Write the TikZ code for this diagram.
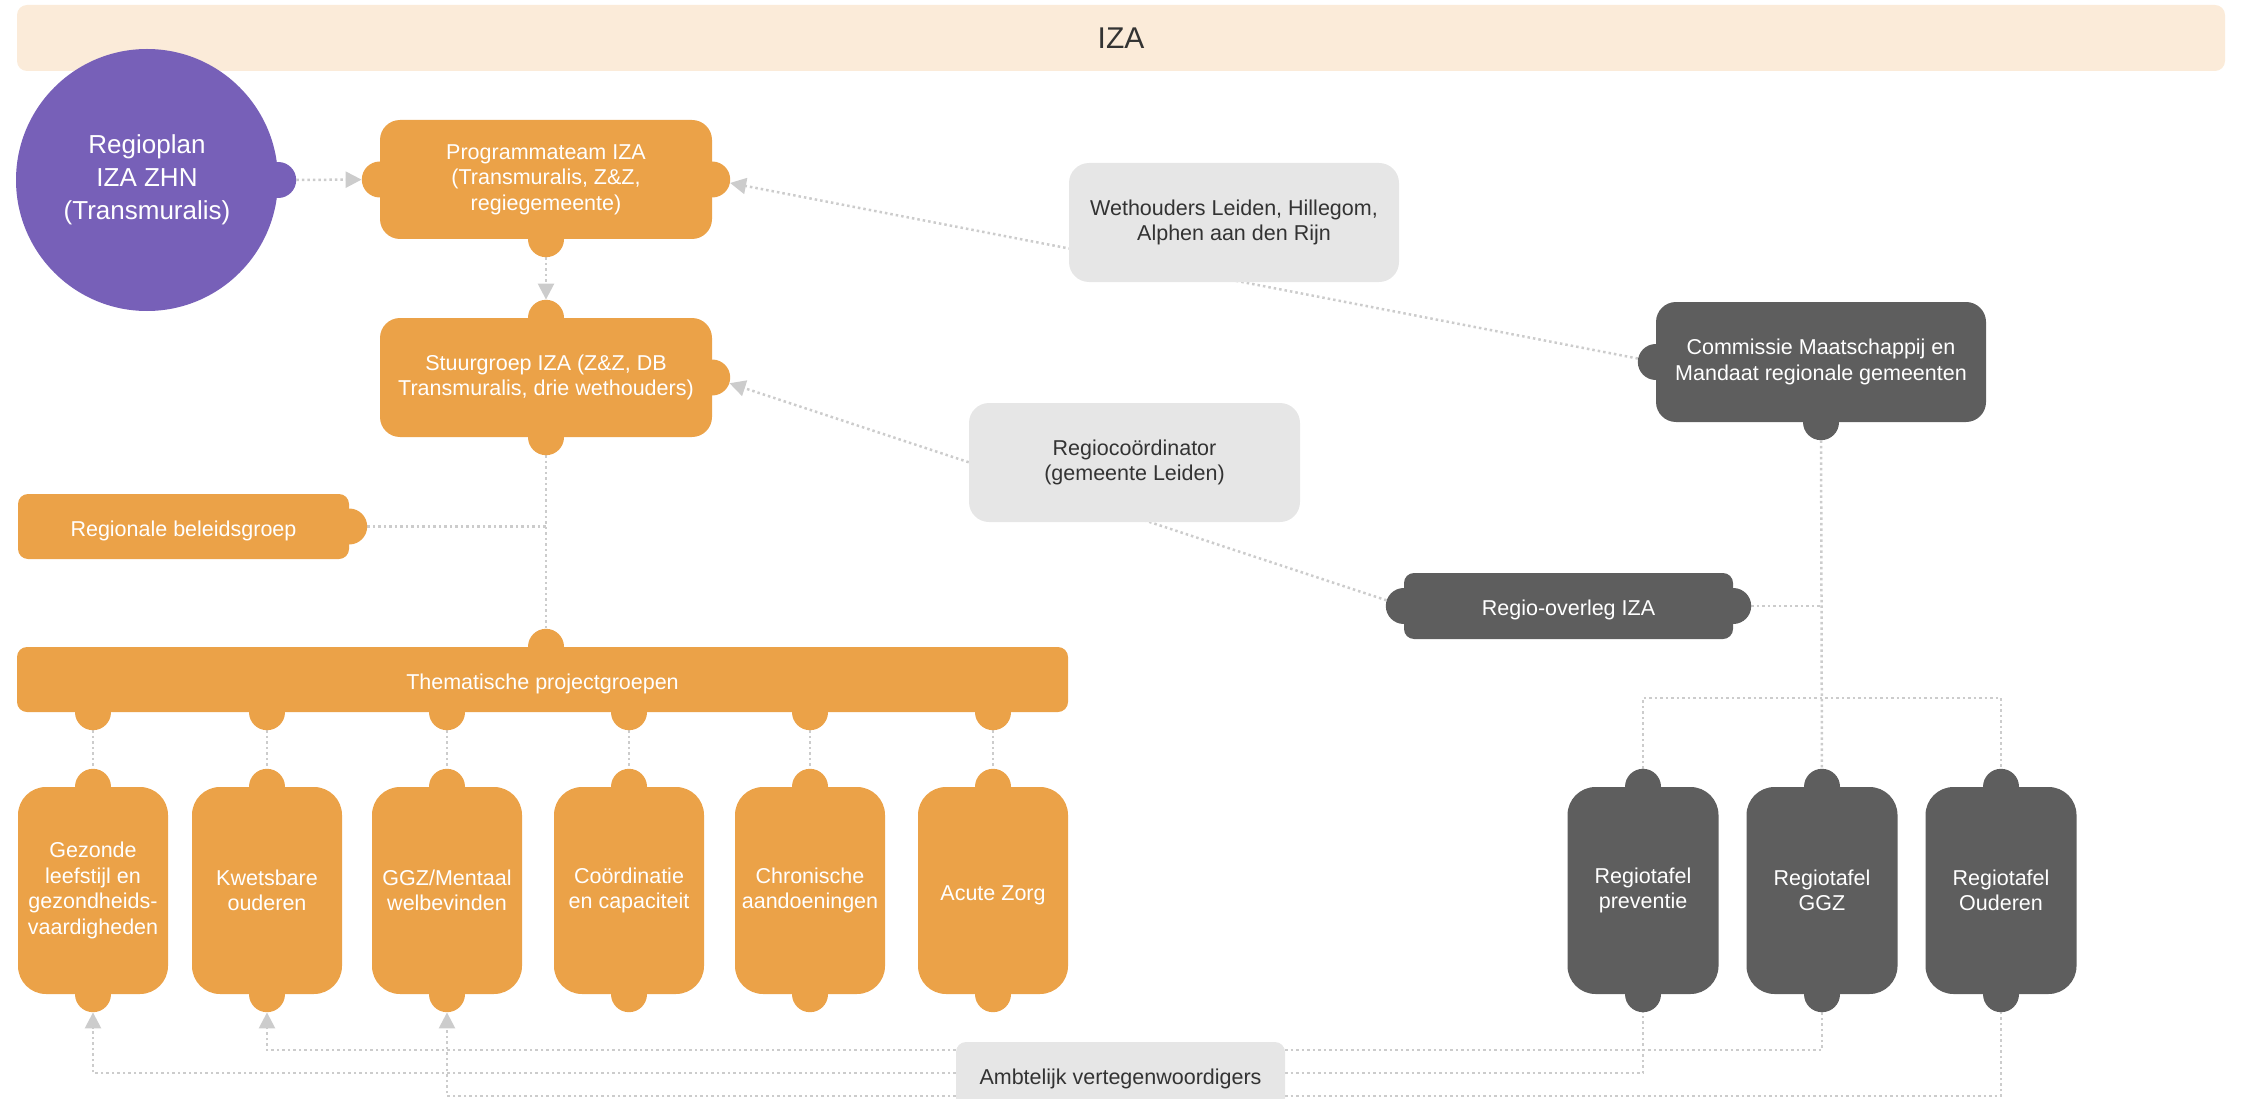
\documentclass[tikz,border=0pt]{standalone}
\usepackage{fontspec}
\setmainfont{Liberation Sans}
\usetikzlibrary{arrows.meta,calc}
\definecolor{orng}{RGB}{235,162,72}
\definecolor{purp}{RGB}{119,96,184}
\definecolor{dgrey}{RGB}{94,94,94}
\definecolor{lgrey}{RGB}{230,230,230}
\definecolor{bannerc}{RGB}{251,235,217}
\definecolor{linec}{RGB}{204,204,204}
\definecolor{txt}{RGB}{51,51,51}
\pgfdeclarelayer{bg}
\pgfsetlayers{bg,main}
\begin{document}
\begin{tikzpicture}[x=1pt,y=-1pt,
  every node/.style={font=\fontsize{21.5}{25.5}\selectfont, align=center, inner sep=0pt},
  lower/.style={execute at begin node={\rule{0pt}{23.5pt}}},
  obox/.style={fill=orng, text=white, rounded corners=20pt, lower},
  dbox/.style={fill=dgrey, text=white, rounded corners=20pt, lower},
  lbox/.style={fill=lgrey, text=txt, rounded corners=20pt, lower},
  obump/.style={circle, minimum size=36pt, inner sep=0pt, fill=orng},
  dbump/.style={circle, minimum size=36pt, inner sep=0pt, fill=dgrey},
  pbump/.style={circle, minimum size=36pt, inner sep=0pt, fill=purp},
  conn/.style={draw=linec, line width=2.5pt, dash pattern=on 2.5pt off 3pt},
  arr/.style={conn, -{Triangle[length=16pt,width=16pt]}}
]
\useasboundingbox (0,0) rectangle (2242,1099);

% banner
\node[fill=bannerc, rounded corners=10pt, minimum width=2208pt, minimum height=66pt,
      font=\fontsize{30}{36}\selectfont, text=txt] (iza) at (1121,38) {IZA};

% regioplan circle
\node[circle, fill=purp, minimum size=262pt, text=white,
      font=\fontsize{26}{33}\selectfont,
      execute at begin node={\rule{0pt}{27pt}}] (plan) at (147,180) {Regioplan\\IZA ZHN\\(Transmuralis)};
\node[pbump] (planR) at (plan.east) {};

% programmateam
\node[obox, minimum width=332pt, minimum height=119pt] (prog) at (546,179.5)
  {Programmateam IZA\\(Transmuralis, Z\&Z,\\regiegemeente)};
\node[obump] (progL) at (prog.west) {};
\node[obump] (progR) at (prog.east) {};
\node[obump] (progB) at (prog.south) {};

% stuurgroep
\node[obox, minimum width=332pt, minimum height=119pt] (stuur) at (546,377.5)
  {Stuurgroep IZA (Z\&Z, DB\\Transmuralis, drie wethouders)};
\node[obump] (stuurT) at (stuur.north) {};
\node[obump] (stuurR) at (stuur.east) {};
\node[obump] (stuurB) at (stuur.south) {};

% regionale beleidsgroep
\node[obox, rounded corners=10pt, minimum width=331pt, minimum height=65pt] (regb) at (183.5,526.5)
  {Regionale beleidsgroep};
\node[obump] (regbR) at (regb.east) {};

% thematische projectgroepen
\node[obox, rounded corners=10pt, minimum width=1051pt, minimum height=65pt] (them) at (542.5,679.5)
  {Thematische projectgroepen};
\node[obump] (themT) at (them.north -| stuur) {};

% six project boxes
\foreach \i/\x/\t in {1/93/{Gezonde\\leefstijl en\\gezondheids-\\vaardigheden},
                      2/267/{Kwetsbare\\ouderen},
                      3/447/{GGZ/Mentaal\\welbevinden},
                      4/629/{Coördinatie\\en capaciteit},
                      5/810/{Chronische\\aandoeningen},
                      6/993/{Acute Zorg}}{
  \node[obox, rounded corners=28pt, minimum width=150pt, minimum height=207pt] (p\i) at (\x,890.5) {\t};
  \node[obump] (p\i T) at (p\i.north) {};
  \node[obump] (p\i B) at (p\i.south) {};
  \node[obump] (themB\i) at (them.south -| p\i) {};
}

% light grey boxes
\node[lbox, minimum width=330pt, minimum height=119pt] (weth) at (1234,222.5)
  {Wethouders Leiden, Hillegom,\\Alphen aan den Rijn};
\node[lbox, minimum width=331pt, minimum height=119pt] (regco) at (1134.5,462.5)
  {Regiocoördinator\\(gemeente Leiden)};
\node[lbox, rounded corners=10pt, minimum width=329pt, minimum height=66pt] (amb) at (1120.5,1075)
  {Ambtelijk vertegenwoordigers};

% commissie
\node[dbox, minimum width=330pt, minimum height=120pt] (com) at (1821,362)
  {Commissie Maatschappij en\\Mandaat regionale gemeenten};
\node[dbump] (comL) at (com.west) {};
\node[dbump] (comB) at (com.south) {};

% regio-overleg
\node[dbox, rounded corners=10pt, minimum width=329pt, minimum height=66pt] (ro) at (1568.5,606)
  {Regio-overleg IZA};
\node[dbump] (roL) at (ro.west) {};
\node[dbump] (roR) at (ro.east) {};

% regiotafels
\foreach \i/\x/\t in {1/1643/{Regiotafel\\preventie}, 2/1822/{Regiotafel\\GGZ}, 3/2001/{Regiotafel\\Ouderen}}{
  \node[dbox, rounded corners=28pt, minimum width=151pt, minimum height=207pt] (t\i) at (\x,890.5) {\t};
  \node[dbump] (t\i T) at (t\i.north) {};
  \node[dbump] (t\i B) at (t\i.south) {};
}

\coordinate (split) at (comB |- 0,698);

\begin{pgfonlayer}{bg}
  \draw[arr] (planR) -- (progL);
  \draw[arr] (progB) -- (stuurT);
  \draw[arr] (comL) -- (progR);
  \draw[arr] (roL) -- (stuurR);
  \draw[conn] (stuurB) -- (themT);
  \draw[conn] (regbR) -- (regbR -| stuurB);
  \foreach \i in {1,...,6}{\draw[conn] (themB\i) -- (p\i T);}
  \draw[conn] (comB) -- (t2T);
  \draw[conn] (t1T) |- (split) -| (t3T);
  \draw[conn] (roR) -- (roR -| comB);
  \draw[arr] ([yshift=2pt]amb.west) -| (p1B);
  \draw[arr] ([yshift=25pt]amb.west) -| (p2B);
  \draw[arr] ([yshift=-21pt]amb.west) -| (p3B);
  \draw[conn] ([yshift=2pt]amb.east) -| (t1B);
  \draw[conn] ([yshift=25pt]amb.east) -| (t2B);
  \draw[conn] ([yshift=-21pt]amb.east) -| (t3B);
\end{pgfonlayer}
\end{tikzpicture}
\end{document}
